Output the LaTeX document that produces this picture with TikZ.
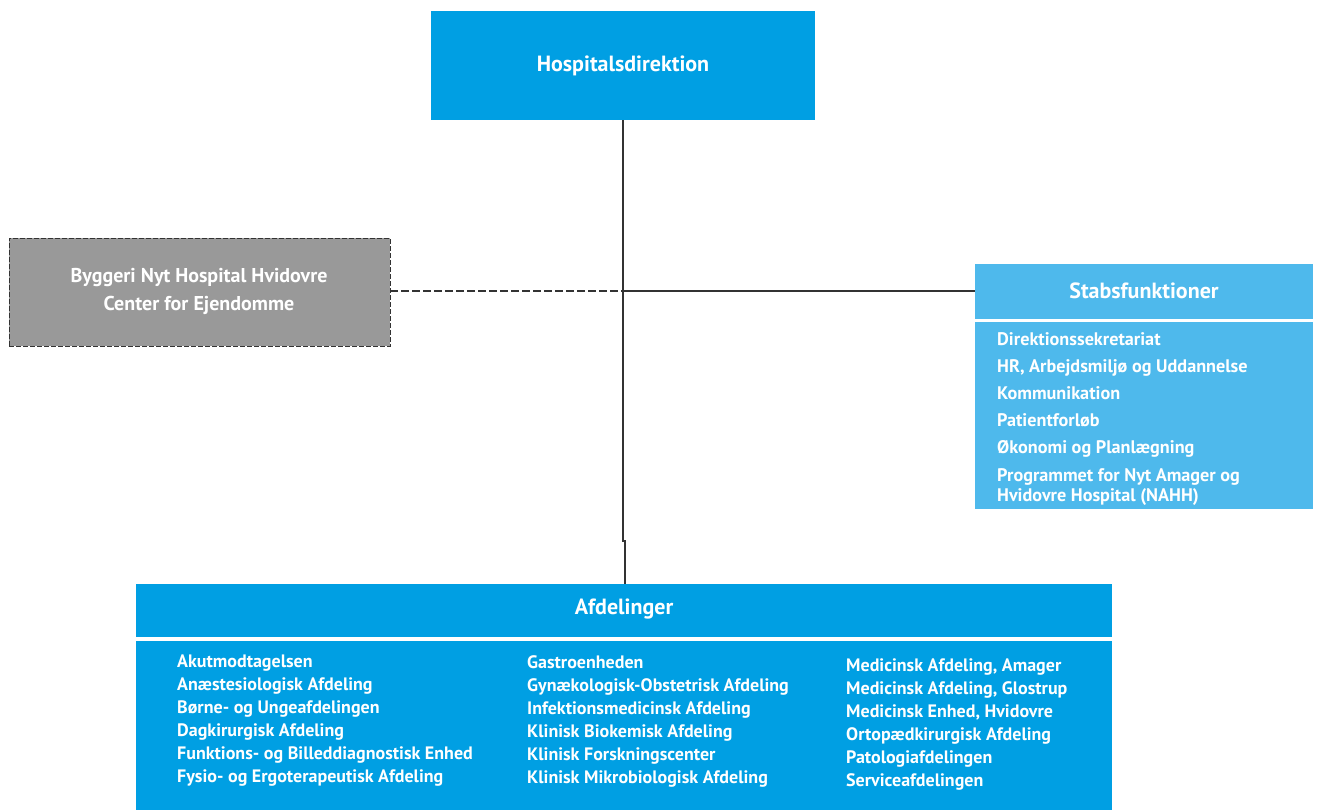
\documentclass[tikz,border=0pt]{standalone}
\usepackage{fontspec}
\setmainfont{PT Sans}
\definecolor{hblue}{RGB}{0,159,227}
\definecolor{sblue}{RGB}{78,185,236}
\definecolor{bgray}{RGB}{153,153,153}
\definecolor{lnc}{RGB}{51,51,51}
\tikzset{
  box/.style={anchor=north west, inner sep=0pt, outer sep=0pt, draw=none},
  hdr/.style={text=white, font=\bfseries\fontsize{22}{24}\selectfont},
  item/.style={anchor=base west, inner sep=0pt, text=white, font=\bfseries\fontsize{18}{20}\selectfont},
  sitem/.style={anchor=base west, inner sep=0pt, text=white, font=\bfseries\fontsize{18.2}{20}\selectfont, align=left},
  conn/.style={draw=lnc, line width=1.4pt},
}
\begin{document}
\begin{tikzpicture}[x=1pt,y=-1pt]
\useasboundingbox (0,0) rectangle (1320,809);
% boxes
\node[box, fill=hblue, minimum width=384, minimum height=109] (top) at (431,11) {};
\node[hdr] (toptxt) at (623,66) {Hospitalsdirektion};

\node[box, fill=bgray, draw=lnc, dash pattern=on 5pt off 2pt, line width=1pt, minimum width=381, minimum height=108] (left) at (9,238) {};
\node[text=white, font=\bfseries\fontsize{20}{28}\selectfont, align=center] (lefttxt) at (199,291) {Byggeri Nyt Hospital Hvidovre\\Center for Ejendomme};

\node[box, fill=sblue, minimum width=338, minimum height=55] (stab) at (975,264) {};
\node[hdr] (stabtxt) at (1144,291) {Stabsfunktioner};
\node[box, fill=sblue, minimum width=338, minimum height=187] (stabbody) at (975,322) {};
\node[sitem] (s1) at (997,345) {Direktionssekretariat};
\node[sitem] (s2) at (997,372) {HR, Arbejdsmiljø og Uddannelse};
\node[sitem] (s3) at (997,399) {Kommunikation};
\node[sitem] (s4) at (997,426) {Patientforløb};
\node[sitem] (s5) at (997,453) {Økonomi og Planlægning};
\node[sitem] (s6) at (997,481) {Programmet for Nyt Amager og};
\node[sitem] (s7) at (997,501) {Hvidovre Hospital (NAHH)};

\node[box, fill=hblue, minimum width=976, minimum height=53] (afd) at (136,584) {};
\node[hdr] (afdtxt) at (624,609) {Afdelinger};
\node[box, fill=hblue, minimum width=976, minimum height=170] (afdbody) at (136,641) {};

\node[item] (a1) at (177,667) {Akutmodtagelsen};
\node[item] (a2) at (177,690) {Anæstesiologisk Afdeling};
\node[item] (a3) at (177,713) {Børne- og Ungeafdelingen};
\node[item] (a4) at (177,736) {Dagkirurgisk Afdeling};
\node[item] (a5) at (177,759) {Funktions- og Billeddiagnostisk Enhed};
\node[item] (a6) at (177,782) {Fysio- og Ergoterapeutisk Afdeling};

\node[item] (b1) at (527,668) {Gastroenheden};
\node[item] (b2) at (527,691) {Gynækologisk-Obstetrisk Afdeling};
\node[item] (b3) at (527,714) {Infektionsmedicinsk Afdeling};
\node[item] (b4) at (527,737) {Klinisk Biokemisk Afdeling};
\node[item] (b5) at (527,760) {Klinisk Forskningscenter};
\node[item] (b6) at (527,783) {Klinisk Mikrobiologisk Afdeling};

\node[item] (c1) at (846,671) {Medicinsk Afdeling, Amager};
\node[item] (c2) at (846,694) {Medicinsk Afdeling, Glostrup};
\node[item] (c3) at (846,717) {Medicinsk Enhed, Hvidovre};
\node[item] (c4) at (846,740) {Ortopædkirurgisk Afdeling};
\node[item] (c5) at (846,763) {Patologiafdelingen};
\node[item] (c6) at (846,786) {Serviceafdelingen};

% connectors
\coordinate (jn) at (623,291);
\coordinate (jog) at (623,541);
\coordinate (jog2) at (625,541);
\draw[conn] (top.south -| jn) -- (jog) -- (jog2) -- (jog2 |- afd.north);
\draw[conn, dash pattern=on 8pt off 3pt] (left.east |- jn) -- (jn);
\draw[conn] (jn) -- (jn -| stab.west);
\end{tikzpicture}
\end{document}
